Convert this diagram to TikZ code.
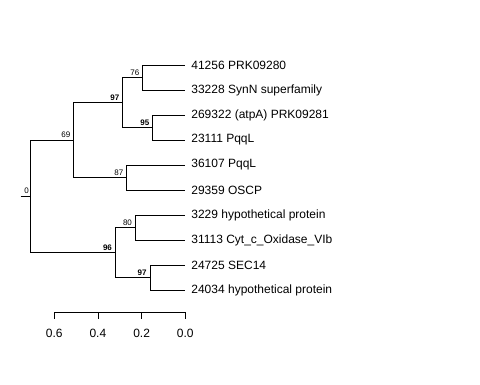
\documentclass[tikz,border=0pt]{standalone}
\usepackage{fontspec}
\setmainfont{Liberation Sans}

\tikzset{
  leaf/.style={anchor=west, inner xsep=6pt, inner ysep=0pt, font=\fontsize{12}{14}\selectfont},
  boot/.style={anchor=south east, inner xsep=3pt, inner ysep=2pt, font=\fontsize{8}{9}\selectfont},
  bootbf/.style={boot, font=\fontsize{8}{9}\selectfont\bfseries},
  scalelbl/.style={anchor=base, inner sep=0pt, font=\fontsize{12}{14}\selectfont}
}

\begin{document}
\begin{tikzpicture}[x=1pt, y=-1pt, line width=0.8pt]
\useasboundingbox (0,0) rectangle (480,384);

% leaves
\node[leaf] (l1) at (185, 65) {41256 PRK09280};
\node[leaf] (l2) at (185, 90) {33228 SynN superfamily};
\node[leaf] (l3) at (185,115) {269322 (atpA) PRK09281};
\node[leaf] (l4) at (185,140) {23111 PqqL};
\node[leaf] (l5) at (185,165) {36107 PqqL};
\node[leaf] (l6) at (185,190) {29359 OSCP};
\node[leaf] (l7) at (185,215) {3229 hypothetical protein};
\node[leaf] (l8) at (185,240) {31113 Cyt\_c\_Oxidase\_VIb};
\node[leaf] (l9) at (185,265) {24725 SEC14};
\node[leaf] (l10) at (185,290) {24034 hypothetical protein};

% internal nodes
\coordinate (stub) at (20.7,196.25);
\coordinate (root) at (30.7,196.25);
\coordinate (n69) at (73.7,140);
\coordinate (n97) at (122.7,102.5);
\coordinate (n76) at (142.7,77.5);
\coordinate (n95) at (152.7,127.5);
\coordinate (n87) at (126.7,177.5);
\coordinate (n96) at (115.3,252.5);
\coordinate (n80) at (135.3,227.5);
\coordinate (n97b) at (150,277.5);

\draw (stub) -- (root);
\draw (root) |- (n69);
\draw (root) |- (n96);
\draw (n69) |- (n97);
\draw (n69) |- (n87);
\draw (n97) |- (n76);
\draw (n97) |- (n95);
\draw (n76) |- (l1.west);
\draw (n76) |- (l2.west);
\draw (n95) |- (l3.west);
\draw (n95) |- (l4.west);
\draw (n87) |- (l5.west);
\draw (n87) |- (l6.west);
\draw (n96) |- (n80);
\draw (n96) |- (n97b);
\draw (n80) |- (l7.west);
\draw (n80) |- (l8.west);
\draw (n97b) |- (l9.west);
\draw (n97b) |- (l10.west);

% support values
\node[boot, xshift=1.5pt] (b0) at (root) {0};
\node[boot] (b69) at (n69) {69};
\node[bootbf] (b97) at (n97) {97};
\node[boot] (b76) at (n76) {76};
\node[bootbf] (b95) at (n95) {95};
\node[boot] (b87) at (n87) {87};
\node[bootbf] (b96) at (n96) {96};
\node[boot] (b80) at (n80) {80};
\node[bootbf] (b97b) at (n97b) {97};

% scale
\foreach \v [count=\i] in {0.0,0.2,0.4,0.6} {
  \coordinate (t\i) at ({185.3-\v*218.5},312);
  \draw (t\i) -- ++(0,6.5);
  \node[scalelbl] (s\i) at ({185.3-\v*218.5},337.3) {\v};
}
\draw (t1) -- (t4);
\end{tikzpicture}
\end{document}
